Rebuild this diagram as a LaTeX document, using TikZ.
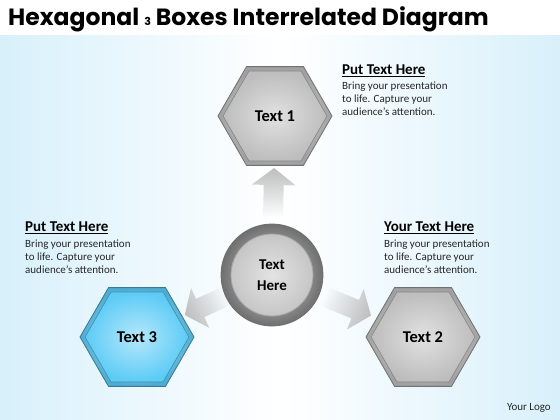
\documentclass[tikz,border=0pt]{standalone}
\usepackage{fontspec}
\setmainfont{Carlito}
\newfontfamily\titlefont{Poppins}
\usetikzlibrary{positioning}
\usetikzlibrary{calc}
\usetikzlibrary{shapes,fadings}

\definecolor{skyback}{HTML}{D8F0FB}
\definecolor{rimgray}{HTML}{6F6F6F}
\definecolor{facegray}{HTML}{BDBDBD}
\definecolor{arrowgray}{HTML}{BEBEBE}
\definecolor{faceblue}{HTML}{5CCBF6}

\tikzset{
  hexrim/.style={regular polygon, regular polygon sides=6, minimum size=114pt,
    inner sep=0pt, draw=#1!60!black, line width=0.8pt,
    inner color=#1!40!white, outer color=#1!85!black},
  hexface/.style={regular polygon, regular polygon sides=6, minimum size=104pt,
    inner sep=0pt, draw=#1!70!black, line width=0.6pt,
    font=\fontsize{16.5}{18}\selectfont\bfseries},
  heading/.style={anchor=north west, inner sep=0pt,
    font=\fontsize{15}{17}\selectfont\bfseries},
  bodytext/.style={anchor=north west, inner sep=0pt, align=left, text=black!85,
    font=\fontsize{11}{13.2}\selectfont}
}

\newcommand{\blockarrow}[3]{%
  \coordinate (ah) at ($(#2)!17pt!(#1)$);
  \fill[arrowgray, path fading=south, fading angle=#3]
    ($(#1)!10pt!90:(#2)$) -- ($(ah)!10pt!90:(#2)$) -- ($(ah)!22pt!90:(#2)$) --
    (#2) -- ($(ah)!22pt!-90:(#2)$) -- ($(ah)!10pt!-90:(#2)$) --
    ($(#1)!10pt!-90:(#2)$) -- cycle;
}

\begin{document}
\begin{tikzpicture}[x=1pt,y=-1pt]
\useasboundingbox (0,0) rectangle (560,420);

% background
\fill[white] (0,0) rectangle (560,420);
\fill[left color=skyback, right color=skyback, middle color=white]
  (0,36) rectangle (560,420);

% title
\node[anchor=west, inner sep=0pt] (title) at (8,19)
  {\titlefont\bfseries\fontsize{23.5}{26}\selectfont Hexagonal {\fontsize{11}{12}\selectfont 3} Boxes Interrelated Diagram};

% hexagons
\foreach \nm/\pos/\txt/\col in {t1/{275,116}/Text 1/facegray,
                                 t2/{423,337}/Text 2/facegray,
                                 t3/{137,337}/Text 3/faceblue}
{
  \node[hexrim=\col] (\nm) at (\pos) {};
  \node[hexface=\col, inner color=\col!45!white, outer color=\col] (\nm in) at (\pos) {\txt};
}

% centre circle
\node[circle, minimum size=102pt, inner sep=0pt, draw=rimgray, line width=0.8pt,
  inner color=gray!30, outer color=rimgray] (cen) at (272,275) {};
\node[circle, minimum size=82pt, inner sep=0pt, draw=gray!70, line width=0.8pt,
  inner color=gray!22, outer color=gray!45, align=center,
  font=\fontsize{15}{21}\selectfont\bfseries] (cenin) at (272,275) {Text\\Here};

% arrows
\coordinate (a1) at ($(cen)!58pt!(t1)$);
\coordinate (b1) at ($(cen)!107pt!(t1)$);
\coordinate (a2) at ($(cen)!56pt!(t2)$);
\coordinate (b2) at ($(cen)!107pt!(t2)$);
\coordinate (a3) at ($(cen)!50pt!(t3)$);
\coordinate (b3) at ($(cen)!96pt!(t3)$);
\blockarrow{a1}{b1}{0}
\blockarrow{a2}{b2}{-112}
\blockarrow{a3}{b3}{115}

% text blocks
\node[heading] (head1) at (342,65) {\underline{Put Text Here}};
\node[bodytext] (body1) at ($(head1.south west)+(0,4.5)$)
  {Bring your presentation\\to life. Capture your\\audience's attention.};
\node[heading] (head3) at (25,222) {\underline{Put Text Here}};
\node[bodytext] (body3) at ($(head3.south west)+(0,5)$)
  {Bring your presentation\\to life. Capture your\\audience's attention.};
\node[heading] (head2) at (384,222) {\underline{Your Text Here}};
\node[bodytext] (body2) at ($(head2.south west)+(0,5)$)
  {Bring your presentation\\to life. Capture your\\audience's attention.};

\node[anchor=east, inner sep=0pt, font=\fontsize{11}{13}\selectfont, text=black!85]
  (logo) at (551,408) {Your Logo};

\end{tikzpicture}
\end{document}
